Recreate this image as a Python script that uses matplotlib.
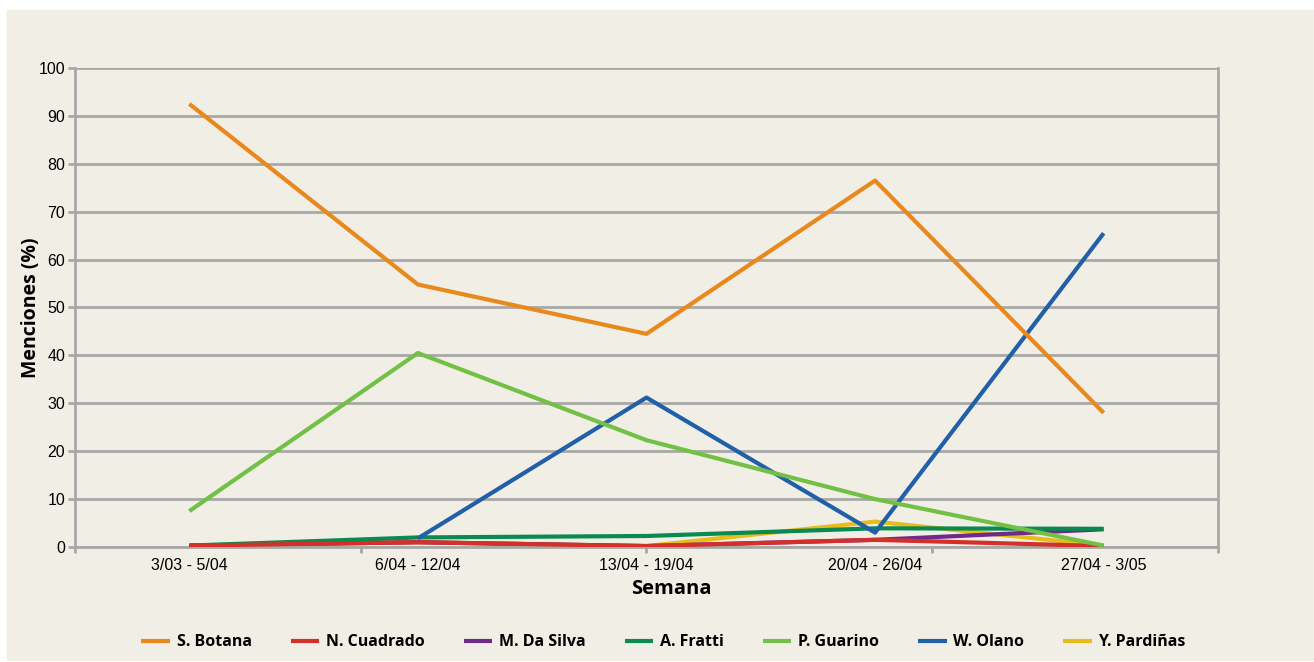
import matplotlib.pyplot as plt
import numpy as np
from matplotlib.patches import Rectangle

semanas = ['3/03 - 5/04', '6/04 - 12/04', '13/04 - 19/04', '20/04 - 26/04', '27/04 - 3/05']

nombres = ['S. Botana', 'N. Cuadrado', 'M. Da Silva', 'A. Fratti', 'P. Guarino', 'W. Olano', 'Y. Pardiñas']
colores = ['#E8891E', '#D3302A', '#6F2A8E', '#0A8A4E', '#72C045', '#2160A8', '#E9BC1D']

botana = [92.5, 54.8, 44.5, 76.5, 28.0]
cuadrado = [0.3, 1.0, 0.2, 1.5, 0.2]
da_silva = [0.3, 1.0, 0.2, 1.5, 3.7]
fratti = [0.3, 2.0, 2.3, 3.9, 3.8]
guarino = [7.5, 40.5, 22.3, 10.0, 0.3]
olano = [np.nan, 1.8, 31.2, 3.0, 65.5]
pardinas = [0.3, 1.0, 0.2, 5.3, 0.3]

series = [botana, cuadrado, da_silva, fratti, guarino, olano, pardinas]
orden = [5, 4.1, 2.2, 4, 4.5, 4.2, 2.1]

fig = plt.figure(figsize=(13.14, 6.62), dpi=100)
fondo = Rectangle((7 / 1314, 2 / 662), 1307 / 1314, 650 / 662,
                  transform=fig.transFigure, color='#F1EEE6', zorder=-10)
fig.patches.append(fondo)

ax = fig.add_axes([0.0571, 0.1737, 0.8698, 0.7236])
ax.set_facecolor('none')

x = np.arange(len(semanas))
for vals, nombre, col, z in zip(series, nombres, colores, orden):
    ax.plot(x, vals, color=col, lw=3, label=nombre, zorder=z, solid_capstyle='butt')

gris = '#A8A8A8'
ax.set_xlim(-0.5, 4.5)
ax.set_ylim(0, 100)
ax.set_yticks(range(0, 101, 10))
ax.yaxis.grid(True, color=gris, lw=2)
ax.set_axisbelow(True)
for s in ax.spines.values():
    s.set_color(gris)
    s.set_linewidth(2)
ax.spines['top'].set_visible(False)

# marcas en 4 intervalos iguales, etiquetas en el centro de cada semana
ax.xaxis.remove_overlapping_locs = False
ax.set_xticks(np.linspace(-0.5, 4.5, 5))
ax.set_xticklabels([])
ax.set_xticks(x, minor=True)
ax.set_xticklabels(semanas, minor=True, fontsize=11.5, family='Liberation Sans')
ax.tick_params(axis='x', which='minor', length=0, pad=8)
ax.tick_params(axis='x', which='major', length=4, width=2, color=gris)
ax.tick_params(axis='y', length=5, width=2, color=gris, labelsize=11.5, pad=2)
for t in ax.get_yticklabels():
    t.set_family('Liberation Sans')

ax.set_xlabel('Semana', fontsize=14.5, fontweight='bold', family='Open Sans')
ax.xaxis.set_label_coords(0.522, -0.066)
ax.set_ylabel('Menciones (%)', fontsize=14, fontweight='bold', family='Open Sans')
ax.yaxis.set_label_coords(-0.03, 0.5)

fig.legend(loc='center', bbox_to_anchor=(0.505, 0.03), ncol=7, frameon=False,
           prop={'family': 'Open Sans', 'weight': 'bold', 'size': 11.5},
           handlelength=1.8, handletextpad=0.4, columnspacing=2.45)

fig.savefig('out.png', dpi=100)
